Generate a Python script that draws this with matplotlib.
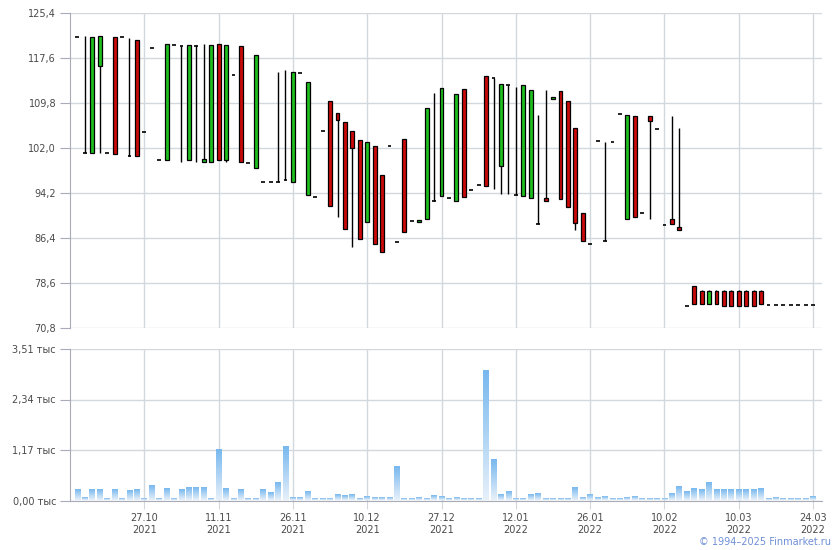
import numpy as np
import matplotlib
matplotlib.use('Agg')
import matplotlib.pyplot as plt
from matplotlib.patches import Rectangle
from matplotlib.colors import LinearSegmentedColormap

# цены (O, H, L, C) по торговым дням
opens = [121.2, 101.1, 101.1, 116.3, 101.1, 121.2, 121.3, 100.7, 120.8, 104.7,
         119.3, 99.9, 99.9, 119.85, 119.7, 99.9, 119.7, 99.6, 99.6, 120.0,
         99.9, 114.65, 119.7, 99.35, 98.5, 96.05, 96.05, 96.05, 96.45, 96.05,
         114.95, 93.85, 93.5, 104.9, 110.2, 108.0, 106.45, 104.9, 103.35, 89.1,
         102.3, 97.25, 102.3, 85.65, 103.5, 89.3, 89.1, 89.65, 92.8, 93.6,
         93.3, 92.75, 112.2, 94.7, 95.55, 114.4, 114.1, 98.85, 112.9, 93.8,
         93.6, 93.3, 88.8, 93.3, 110.45, 111.85, 110.1, 105.45, 90.7, 85.3,
         103.15, 85.9, 103.0, 107.85, 89.65, 107.5, 90.7, 107.5, 105.3, 88.6,
         89.65, 88.25, 74.55, 78.0, 77.3, 74.9, 77.3, 77.3, 77.3, 77.3,
         77.3, 77.3, 77.3, 74.8, 74.8, 74.8, 74.8, 74.8, 74.8, 74.8]
highs = [121.2, 121.4, 121.2, 121.4, 101.1, 121.2, 121.3, 121.0, 120.8, 104.7,
         119.3, 99.9, 120.0, 119.85, 119.7, 119.85, 119.8, 120.0, 119.85, 120.0,
         119.85, 114.65, 119.7, 99.35, 118.1, 96.05, 96.05, 115.2, 115.6, 115.2,
         114.95, 113.5, 93.5, 104.9, 110.2, 108.0, 106.45, 104.9, 103.35, 103.0,
         102.3, 97.25, 102.3, 85.65, 103.5, 89.3, 89.45, 108.9, 111.5, 112.35,
         93.3, 111.3, 112.2, 94.7, 95.55, 114.4, 114.1, 113.05, 112.9, 112.5,
         112.9, 112.0, 107.65, 112.0, 110.8, 111.85, 110.1, 105.45, 90.7, 85.3,
         103.15, 103.0, 103.0, 107.85, 107.65, 107.5, 90.7, 107.5, 105.3, 88.6,
         107.5, 105.4, 74.55, 78.0, 77.3, 77.3, 77.3, 77.3, 77.3, 77.3,
         77.3, 77.3, 77.3, 74.8, 74.8, 74.8, 74.8, 74.8, 74.8, 74.8]
lows = [121.2, 101.1, 101.1, 101.1, 101.1, 100.9, 121.3, 100.7, 100.6, 104.7,
        119.3, 99.9, 99.9, 119.85, 99.6, 99.9, 99.6, 99.6, 99.6, 99.9,
        99.5, 114.65, 99.6, 99.35, 98.5, 96.05, 96.05, 96.05, 96.45, 96.05,
        114.95, 93.85, 93.5, 104.9, 91.95, 90.0, 87.9, 84.9, 86.2, 89.1,
        85.35, 83.9, 102.3, 85.65, 87.4, 89.3, 89.1, 89.65, 92.8, 93.6,
        93.3, 92.75, 93.45, 94.7, 95.55, 95.35, 94.95, 94.1, 94.1, 93.8,
        93.6, 93.3, 88.8, 92.75, 110.45, 93.1, 91.7, 87.75, 85.8, 85.3,
        103.15, 85.9, 103.0, 107.85, 89.65, 90.0, 90.7, 89.65, 105.3, 88.6,
        88.8, 87.75, 74.55, 74.9, 74.9, 74.9, 74.9, 74.6, 74.6, 74.6,
        74.6, 74.6, 74.9, 74.8, 74.8, 74.8, 74.8, 74.8, 74.8, 74.8]
closes = [121.2, 101.1, 121.2, 121.4, 101.1, 100.9, 121.3, 100.7, 100.6, 104.7,
          119.3, 99.9, 120.0, 119.85, 119.7, 119.85, 119.7, 100.1, 119.85, 99.9,
          119.85, 114.65, 99.6, 99.35, 118.1, 96.05, 96.05, 96.05, 96.45, 115.2,
          114.95, 113.5, 93.5, 104.9, 91.95, 106.8, 87.9, 101.95, 86.2, 103.0,
          85.35, 83.9, 102.3, 85.65, 87.4, 89.3, 89.45, 108.9, 92.8, 112.35,
          93.3, 111.3, 93.45, 94.7, 95.55, 95.35, 114.1, 113.05, 112.9, 93.8,
          112.9, 112.0, 88.8, 92.75, 110.8, 93.1, 91.7, 88.95, 85.8, 85.3,
          103.15, 85.9, 103.0, 107.85, 107.65, 90.0, 90.7, 106.6, 105.3, 88.6,
          88.8, 87.75, 74.55, 74.9, 74.9, 77.3, 74.9, 74.6, 74.6, 74.6,
          74.6, 74.6, 74.9, 74.8, 74.8, 74.8, 74.8, 74.8, 74.8, 74.8]

# объем, тыс
volume = [0.24, 0.05, 0.24, 0.24, 0.03, 0.24, 0.03, 0.21, 0.24, 0.03,
          0.33, 0.03, 0.26, 0.03, 0.24, 0.28, 0.28, 0.28, 0.03, 1.17,
          0.26, 0.03, 0.24, 0.03, 0.03, 0.24, 0.17, 0.40, 1.23, 0.05,
          0.05, 0.19, 0.03, 0.03, 0.03, 0.12, 0.10, 0.12, 0.03, 0.08,
          0.05, 0.05, 0.05, 0.77, 0.03, 0.03, 0.05, 0.03, 0.10, 0.08,
          0.03, 0.05, 0.03, 0.03, 0.03, 3.01, 0.93, 0.12, 0.19, 0.03,
          0.03, 0.12, 0.15, 0.03, 0.03, 0.03, 0.03, 0.28, 0.05, 0.12,
          0.05, 0.08, 0.03, 0.03, 0.05, 0.08, 0.03, 0.03, 0.03, 0.03,
          0.15, 0.31, 0.19, 0.26, 0.24, 0.40, 0.24, 0.24, 0.24, 0.24,
          0.24, 0.24, 0.26, 0.03, 0.05, 0.03, 0.03, 0.03, 0.03, 0.08]

tick_idx = [9, 19, 29, 39, 49, 59, 69, 79, 89, 99]
tick_lbl = ['27.10\n2021', '11.11\n2021', '26.11\n2021', '10.12\n2021', '27.12\n2021',
            '12.01\n2022', '26.01\n2022', '10.02\n2022', '10.03\n2022', '24.03\n2022']
price_ticks = [70.8, 78.6, 86.4, 94.2, 102.0, 109.8, 117.6, 125.4]
vol_ticks = [0.0, 1.17, 2.34, 3.51]

grid_c = '#d3d8dc'
spine_c = '#a9abb9'
text_c = '#4a4a4a'
green = '#1fbf1f'
red = '#cc0a0a'

fig = plt.figure(figsize=(8.4, 5.5), dpi=100)
ax = fig.add_axes([70/840, 222/550, 752/840, 315/550])
axv = fig.add_axes([70/840, 49.5/550, 752/840, 151.5/550])

x = np.arange(len(opens))
bw = 0.52
for i in x:
    o, h, l, c = opens[i], highs[i], lows[i], closes[i]
    if h - l > 0.01:
        ax.vlines(i, l, h, color='black', lw=1, zorder=2)
    if abs(c - o) < 0.05:
        ax.hlines(o, i - bw/2, i + bw/2, color='black', lw=1.2, zorder=3)
    else:
        col = green if c > o else red
        ax.add_patch(Rectangle((i - bw/2, min(o, c)), bw, abs(c - o),
                               facecolor=col, edgecolor='black', lw=0.9, zorder=3))

ax.set_xlim(-1, 100.2)
ax.set_ylim(70.8, 125.4)
ax.set_yticks(price_ticks)
ax.set_yticklabels([('%.1f' % t).replace('.', ',') for t in price_ticks])
ax.set_xticks(tick_idx)
ax.tick_params(axis='x', length=0, labelbottom=False)
ax.grid(True, color=grid_c, lw=1)
ax.set_axisbelow(True)

cmap = LinearSegmentedColormap.from_list('vol', ['#e6f0fa', '#78b8ee'])
grad = np.linspace(0, 1, 64).reshape(-1, 1)
vw = 0.78
for i in x:
    axv.imshow(grad, extent=[i - vw/2, i + vw/2, 0, volume[i]], origin='lower',
               cmap=cmap, aspect='auto', zorder=2)

axv.set_xlim(-1, 100.2)
axv.set_ylim(0, 3.51)
axv.set_yticks(vol_ticks)
axv.set_yticklabels([('%.2f' % t).replace('.', ',') + ' тыс' for t in vol_ticks])
axv.set_xticks(tick_idx)
axv.set_xticklabels(tick_lbl, linespacing=1.25)
axv.grid(True, color=grid_c, lw=1)
axv.set_axisbelow(True)

for a in (ax, axv):
    for s in ('top', 'right'):
        a.spines[s].set_visible(False)
    a.spines['left'].set_color(spine_c)
    a.tick_params(axis='y', length=7, color=spine_c, labelcolor=text_c, labelsize=7, pad=3)
ax.spines['bottom'].set_visible(False)
axv.spines['bottom'].set_color(spine_c)
axv.tick_params(axis='x', length=6, color=grid_c, labelcolor=text_c, labelsize=7, pad=3)

fig.text(831/840, 8/550, '© 1994–2025 Finmarket.ru', ha='right', va='center',
         fontsize=7, color='#6f8fd6')

fig.savefig('out.png', dpi=100)
